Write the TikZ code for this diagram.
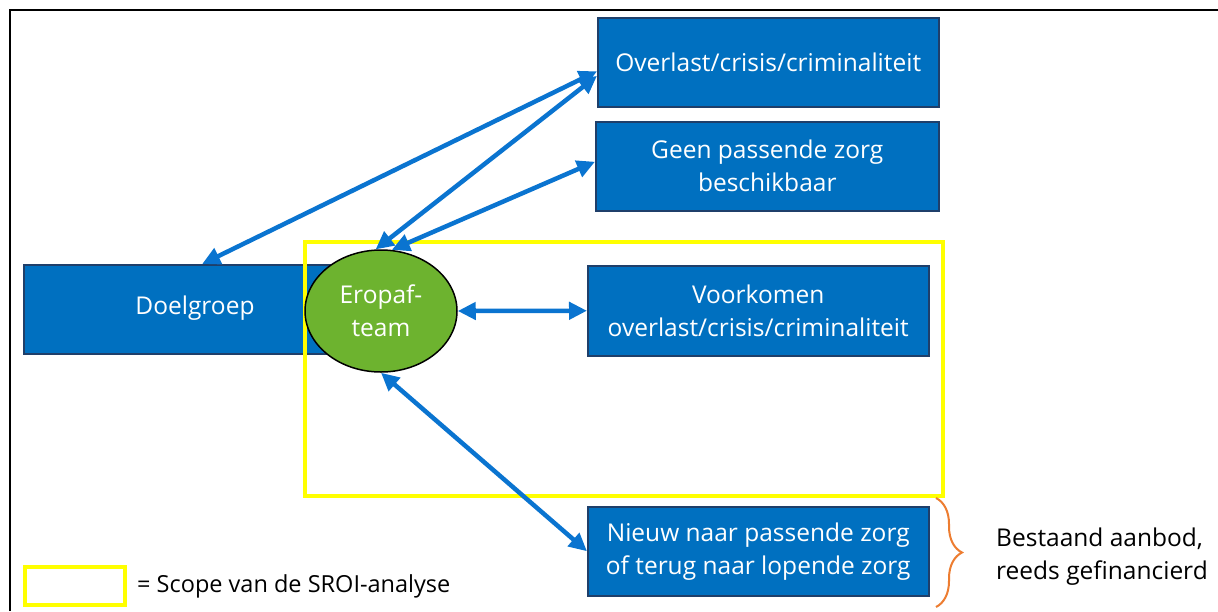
\documentclass[tikz,border=0pt]{standalone}
\usepackage{fontspec}
\setmainfont{Open Sans}
\usetikzlibrary{arrows.meta,calc,shapes.geometric,decorations.pathreplacing}
\definecolor{boxblue}{HTML}{0070C0}
\definecolor{boxedge}{HTML}{1F3F6A}
\definecolor{arrowblue}{HTML}{0A74D0}
\definecolor{eropgreen}{HTML}{6DB32F}
\definecolor{scopeyellow}{HTML}{FFFF00}
\definecolor{braceorange}{HTML}{ED7D31}
\begin{document}
\begin{tikzpicture}[x=1pt,y=-1pt,
  txt/.style={font=\fontsize{24.5}{33}\selectfont},
  bluebox/.style={txt,draw=boxedge,line width=1.5pt,fill=boxblue,text=white,align=center,
    inner sep=0pt,anchor=north west},
  dbl/.style={draw=arrowblue,line width=4.5pt,{Triangle[length=18pt,width=17pt]}-{Triangle[length=18pt,width=17pt]}},
  scope/.style={draw=scopeyellow,line width=4pt}]
\useasboundingbox (0,0) rectangle (1218,611);
\fill[white] (0,0) rectangle (1218,611);
\coordinate (ftl) at (10,10);
\draw[line width=1.5pt] (10,611) -- (ftl) -- (1218,10);
% boxes
\node[bluebox,minimum width=343pt,minimum height=89pt] (doel) at (23,264) {};
\node[txt,text=white] (doelt) at (195,308) {Doelgroep};
\node[bluebox,minimum width=341pt,minimum height=89pt] (over) at (597,17) {Overlast/crisis/criminaliteit};
\node[bluebox,minimum width=343pt,minimum height=89pt] (geen) at (595,121) {Geen passende zorg\\beschikbaar};
\node[bluebox,minimum width=341pt,minimum height=90pt] (voor) at (587,265) {Voorkomen\\overlast/crisis/criminaliteit};
\node[bluebox,minimum width=341pt,minimum height=89pt] (nieuw) at (587,506) {Nieuw naar passende zorg\\of terug naar lopende zorg};
% scope rectangle
\node[scope,minimum width=638pt,minimum height=254pt,inner sep=0pt,anchor=north west] (scope) at (303,240) {};
% ellipse
\node[ellipse,txt,draw=black,line width=1.5pt,fill=eropgreen,text=white,minimum width=152pt,minimum height=122pt,
  inner sep=0pt,align=center] (ero) at (381,311) {Eropaf-\\team};
% connector end points
\coordinate (doelN) at ($(doel.north west)!0.52!(doel.north east)$);
\coordinate (overW1) at ($(over.north west)!0.60!(over.south west)$);
\coordinate (overW2) at ($(over.north west)!0.65!(over.south west)$);
\coordinate (geenW) at ($(geen.north west)!0.45!(geen.south west)$);
\coordinate (eroN1) at (ero.95);
\coordinate (eroN2) at (ero.80);
% arrows
\draw[dbl] (doelN) -- (overW1);
\draw[dbl] (eroN1) -- (overW2);
\draw[dbl] (eroN2) -- (geenW);
\draw[dbl] (ero.east) -- (voor.west);
\draw[dbl] (ero.south) -- (nieuw.west);
% brace
\draw[braceorange,line width=2pt,decorate,decoration={brace,amplitude=26pt}] (936,498) -- (936,607);
\node[txt,text=black,align=left,anchor=west,inner sep=0pt] (best) at (996,557) {Bestaand aanbod,\\reeds gefinancierd};
% legend
\node[scope,minimum width=100pt,minimum height=38pt,inner sep=0pt,anchor=north west] (leg) at (23,565) {};
\node[anchor=west,font=\fontsize{23.5}{28}\selectfont,inner sep=0pt] (legt) at ($(leg.east)+(10,0)$) {= Scope van de SROI-analyse};
\end{tikzpicture}
\end{document}
